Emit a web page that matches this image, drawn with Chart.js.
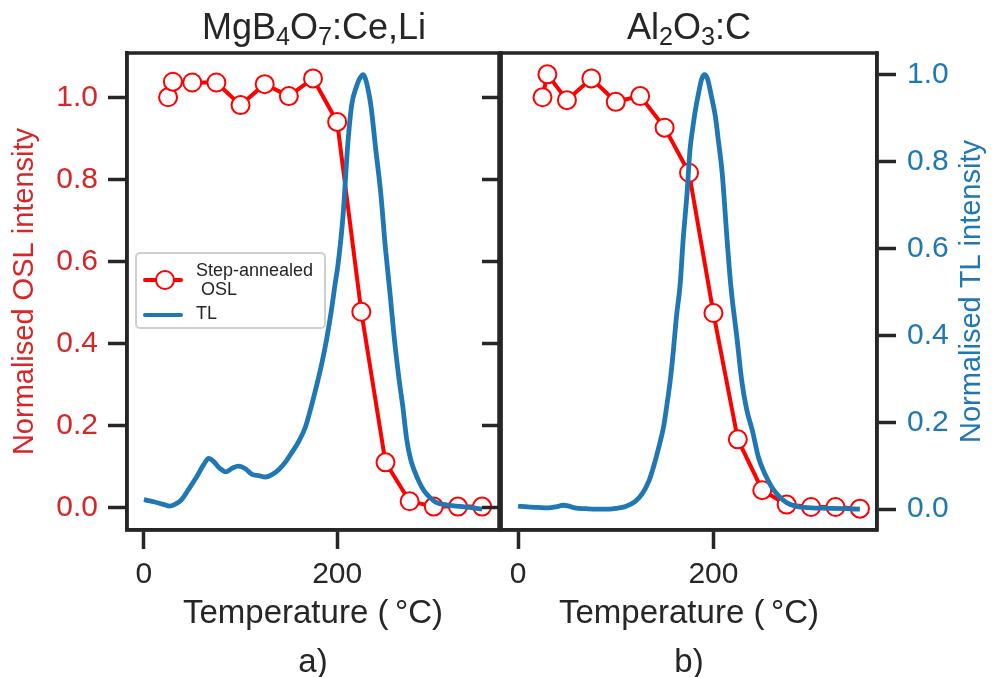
<!DOCTYPE html>
<html lang="en">
<head>
<meta charset="UTF-8">
<title>Step-annealed OSL vs TL</title>
<script src="https://cdn.jsdelivr.net/npm/chart.js"></script>
<style>
  html, body { margin: 0; padding: 0; background: #fff; overflow: hidden; }
  #wrap {
    position: relative; width: 1000px; height: 677px; overflow: hidden;
    font-family: "Liberation Sans", Arial, sans-serif; color: #262626;
  }
  canvas { position: absolute; top: 0; }
  #chartA { left: 0; }
  #chartB { left: 471px; }
  .ttl {
    position: absolute; top: 9px; font-size: 36px; line-height: 36px;
    transform: translateX(-50%); white-space: nowrap;
  }
  .ttl sub { font-size: 0.7em; vertical-align: -0.22em; line-height: 0; }
  #legend {
    position: absolute; left: 135px; top: 252px; width: 187px; height: 73px;
    border: 2px solid #cfcfcf; border-radius: 5px; background: rgba(255,255,255,0.85);
    font-size: 18px; line-height: 19px;
  }
  #legend .ln { position: absolute; left: 6px; width: 40px; height: 4px; border-radius: 2px; }
  #legend .dot {
    position: absolute; left: 18px; width: 16px; height: 16px; border-radius: 50%;
    border: 2px solid #ff0000; background: #fff;
  }
  #legend .txt { position: absolute; left: 59px; white-space: pre; }
</style>
</head>
<body>
<div id="wrap">
  <canvas id="chartA" width="510" height="700"></canvas>
  <canvas id="chartB" width="529" height="700"></canvas>

  <div class="ttl" style="left:314px">MgB<sub>4</sub>O<sub>7</sub>:Ce,Li</div>
  <div class="ttl" style="left:689px">Al<sub>2</sub>O<sub>3</sub>:C</div>

  <div id="legend">
    <div class="ln" style="top:24px; background:#ff0000"></div>
    <div class="dot" style="top:16px"></div>
    <div class="txt" style="top:7px">Step-annealed
 OSL</div>
    <div class="ln" style="top:59px; background:#1f77b4"></div>
    <div class="txt" style="top:50px">TL</div>
  </div>
</div>

<script>
  // step-annealing temperatures (°C) and normalised OSL
  const oslTemp = [25, 30, 50, 75, 100, 125, 150, 175, 200, 225, 250, 275, 300, 325, 350];
  const oslMgB = [1.000, 1.038, 1.036, 1.036, 0.981, 1.032, 1.003, 1.046, 0.940, 0.477, 0.110, 0.015, 0.002, 0.002, 0.002];
  const oslAlO = [1.000, 1.056, 0.993, 1.046, 0.989, 1.003, 0.926, 0.816, 0.474, 0.166, 0.042, 0.007, 0.001, 0.001, -0.003];

  // TL glow curves (normalised)
  const tlTempMgB = [0, 10, 20, 27, 33, 39, 46, 54, 62, 67, 72, 78, 85, 92, 98, 105, 112, 119, 126, 133, 140, 147, 153, 160,
    167, 172, 176, 180, 184, 189, 194, 198, 201, 206, 211, 215, 220, 223, 227, 230, 235, 240, 245, 250, 255, 259, 264,
    268, 272, 276, 280, 285, 290, 296, 303, 313, 324, 337, 350];
  const tlMgB = [0.022, 0.017, 0.011, 0.007, 0.012, 0.022, 0.045, 0.072, 0.103, 0.117, 0.110, 0.095, 0.086, 0.095, 0.099,
    0.093, 0.080, 0.077, 0.074, 0.080, 0.092, 0.110, 0.130, 0.155, 0.188, 0.226, 0.260, 0.296, 0.334, 0.390, 0.457, 0.520,
    0.565, 0.673, 0.840, 0.930, 0.973, 0.990, 1.000, 0.985, 0.927, 0.827, 0.730, 0.600, 0.490, 0.396, 0.300, 0.235, 0.160,
    0.115, 0.088, 0.062, 0.042, 0.027, 0.015, 0.010, 0.007, 0.004, 0.000];

  const tlTempAlO = [0, 10, 20, 31, 40, 46, 52, 58, 70, 80, 90, 100, 110, 120, 127, 134, 139, 144, 149, 152, 156, 159, 162,
    166, 169, 173, 176, 179, 181, 185, 188, 191, 194, 198, 202, 205, 209, 214, 218, 224, 229, 234, 240, 246, 253, 260,
    267, 275, 284, 300, 318, 335, 350];
  const tlAlO = [0.007, 0.005, 0.004, 0.003, 0.006, 0.009, 0.007, 0.003, 0.001, 0.000, 0.000, 0.002, 0.006, 0.018, 0.035,
    0.065, 0.100, 0.142, 0.190, 0.234, 0.300, 0.365, 0.440, 0.519, 0.620, 0.727, 0.827, 0.880, 0.911, 0.960, 0.990, 1.000,
    0.990, 0.950, 0.904, 0.850, 0.773, 0.620, 0.510, 0.396, 0.296, 0.230, 0.180, 0.120, 0.080, 0.050, 0.030, 0.015, 0.007,
    0.003, 0.002, 0.001, 0.000];

  const xTicksAt = [0, 200];
  const yTicksAt = [0.0, 0.2, 0.4, 0.6, 0.8, 1.0];

  const DARK = '#262626';
  const RED = '#ff0000';
  const RED_TXT = '#d62728';
  const BLUE = '#1f77b4';
  const FONT = '"Liberation Sans", Arial, sans-serif';
  Chart.defaults.font.family = FONT;

  const pts = (xs, ys) => xs.map((x, i) => ({x: x, y: ys[i]}));

  // box around the plot area
  const framePlugin = {
    id: 'frame',
    afterDraw(chart) {
      const a = chart.chartArea, ctx = chart.ctx;
      ctx.save();
      ctx.strokeStyle = DARK;
      ctx.lineWidth = 3.5;
      ctx.strokeRect(a.left, a.top, a.right - a.left, a.bottom - a.top);
      ctx.restore();
    }
  };

  // right-hand axis title, reading bottom to top
  const rightTitlePlugin = {
    id: 'rightTitle',
    afterDraw(chart) {
      const ctx = chart.ctx, a = chart.chartArea;
      ctx.save();
      ctx.translate(501, (a.top + a.bottom) / 2);
      ctx.rotate(-Math.PI / 2);
      ctx.font = '29px ' + FONT;
      ctx.fillStyle = BLUE;
      ctx.textAlign = 'center';
      ctx.textBaseline = 'middle';
      ctx.fillText('Normalised TL intensity', 0, 0);
      ctx.restore();
    }
  };

  const tickGrid = {drawOnChartArea: false, tickLength: 19, tickWidth: 3.5, tickColor: DARK};
  const border = {color: DARK, width: 3.5};

  function xScale(tag) {
    return {
      type: 'linear', min: -17.5, max: 367.5,
      afterBuildTicks: s => { s.ticks = xTicksAt.map(v => ({value: v})); },
      ticks: {color: DARK, font: {size: 30}, padding: 8, maxRotation: 0},
      grid: tickGrid, border: border,
      title: {display: true, text: ['Temperature (\u2009\u00b0C)', tag], color: DARK,
        font: {size: 33, lineHeight: 1.5}, padding: {top: 0, bottom: 12}},
      afterFit: s => { s.height = 170; }
    };
  }

  function oslScale(showLabels, width) {
    return {
      position: 'left', min: -0.055, max: 1.108,
      afterBuildTicks: s => { s.ticks = yTicksAt.map(v => ({value: v})); },
      ticks: {display: showLabels, color: RED_TXT, font: {size: 30}, padding: 10, callback: v => v.toFixed(1)},
      grid: tickGrid, border: border,
      title: {display: showLabels, text: 'Normalised OSL intensity', color: RED_TXT,
        font: {size: 29}, padding: {top: 8, bottom: 0}},
      afterFit: s => { s.width = width; }
    };
  }

  function datasets(tlT, tl, osl) {
    return [
      {label: 'TL', data: pts(tlT, tl), yAxisID: 'yTL', borderColor: BLUE, borderWidth: 4.8,
        pointRadius: 0, cubicInterpolationMode: 'monotone', order: 1},
      {label: 'Step-annealed OSL', data: pts(oslTemp, osl), yAxisID: 'y', borderColor: RED, borderWidth: 4,
        pointRadius: 9, pointBorderWidth: 2, pointBackgroundColor: '#ffffff', pointBorderColor: RED, order: 2}
    ];
  }

  const common = {
    responsive: false, animation: false, events: [],
    plugins: {legend: {display: false}, tooltip: {enabled: false}}
  };

  new Chart(document.getElementById('chartA'), {
    type: 'line',
    data: {datasets: datasets(tlTempMgB, tlMgB, oslMgB)},
    options: Object.assign({}, common, {
      layout: {padding: {top: 53, right: 9, bottom: 0, left: 0}},
      scales: {
        x: xScale('a)'),
        y: oslScale(true, 127),
        yTL: {display: false, min: -0.048, max: 1.05}
      }
    }),
    plugins: [framePlugin]
  });

  new Chart(document.getElementById('chartB'), {
    type: 'line',
    data: {datasets: datasets(tlTempAlO, tlAlO, oslAlO)},
    options: Object.assign({}, common, {
      layout: {padding: {top: 53, right: 0, bottom: 0, left: 0}},
      scales: {
        x: xScale('b)'),
        y: oslScale(false, 30),
        yTL: {
          position: 'right', min: -0.048, max: 1.05,
          afterBuildTicks: s => { s.ticks = yTicksAt.map(v => ({value: v})); },
          ticks: {color: BLUE, font: {size: 30}, padding: 11, callback: v => v.toFixed(1)},
          grid: tickGrid, border: border,
          afterFit: s => { s.width = 123; }
        }
      }
    }),
    plugins: [framePlugin, rightTitlePlugin]
  });
</script>
</body>
</html>
